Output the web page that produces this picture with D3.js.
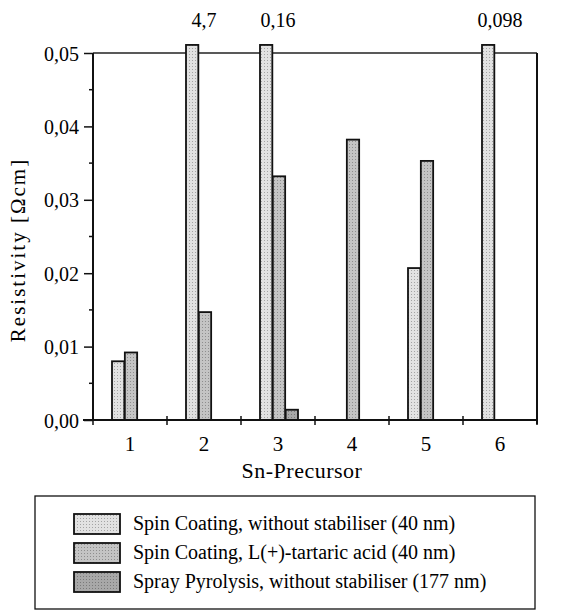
<!DOCTYPE html>
<html>
<head>
<meta charset="utf-8">
<script src="https://cdn.jsdelivr.net/npm/d3@7"></script>
<style>
  body { margin: 0; background: #fff; }
  svg text { font-family: "Liberation Serif", "Times New Roman", serif; fill: #000; }
</style>
</head>
<body>
<svg id="chart" width="565" height="614"></svg>
<script>
// data
var precursors = ["1", "2", "3", "4", "5", "6"];
var seriesNames = [
  "Spin Coating, without stabiliser (40 nm)",
  "Spin Coating, L(+)-tartaric acid (40 nm)",
  "Spray Pyrolysis, without stabiliser (177 nm)"
];
// null = no bar
var spinNoStab   = [0.0080, 4.7, 0.16, null, 0.0207, 0.098];
var spinTartaric = [0.0092, 0.0147, 0.0332, 0.0382, 0.0353, null];
var sprayNoStab  = [null, null, 0.0014, null, null, null];
var yTicks = [0, 0.01, 0.02, 0.03, 0.04, 0.05];

var allSeries = [spinNoStab, spinTartaric, sprayNoStab];
var fills = ["#e2e2e2", "#c4c4c4", "#a8a8a8"];

var svg = d3.select("#chart");

var margins = { left: 93, right: 28, top: 53, bottom: 194 };
var width = 565 - margins.left - margins.right;
var height = 614 - margins.top - margins.bottom;

var xScale = d3.scaleBand()
  .domain(precursors)
  .range([0, width]);

var xSub = d3.scaleBand()
  .domain([0, 1, 2])
  .range([-18, 20])
  .paddingInner(0.04);

var yScale = d3.scaleLinear()
  .domain([0, 0.05])
  .range([height, 0]);

var yMaxShown = 0.0511; // broken bars stick out a bit above the frame

// textures (stipple look)
var defs = svg.append("defs");
fills.forEach(function(c, i) {
  var p = defs.append("pattern")
    .attr("id", "pat" + i)
    .attr("width", 3).attr("height", 3)
    .attr("patternUnits", "userSpaceOnUse");
  p.append("rect").attr("width", 3).attr("height", 3).attr("fill", c);
  p.append("rect").attr("x", i % 2).attr("y", 1).attr("width", 1).attr("height", 1)
    .attr("fill", d3.color(c).darker(0.9));
});

var plot = svg.append("g")
  .attr("transform", "translate(" + margins.left + "," + margins.top + ")");

// frame: top and right lines
plot.append("line")
  .attr("x1", 0).attr("x2", width).attr("y1", 0).attr("y2", 0)
  .attr("stroke", "#222").attr("stroke-width", 1.3);
plot.append("line")
  .attr("x1", width).attr("x2", width).attr("y1", 0).attr("y2", height + 4)
  .attr("stroke", "#111").attr("stroke-width", 2);

// bars
var barData = [];
allSeries.forEach(function(s, si) {
  s.forEach(function(v, ci) {
    if (v != null) barData.push({ cat: precursors[ci], s: si, v: v });
  });
});

plot.selectAll("rect.bar")
  .data(barData)
  .enter()
  .append("rect")
  .attr("class", "bar")
  .attr("x", function(d) { return xScale(d.cat) + xScale.bandwidth() / 2 + xSub(d.s); })
  .attr("width", xSub.bandwidth())
  .attr("y", function(d) { return yScale(Math.min(d.v, yMaxShown)); })
  .attr("height", function(d) { return height - yScale(Math.min(d.v, yMaxShown)); })
  .attr("fill", function(d) { return "url(#pat" + d.s + ")"; })
  .attr("stroke", "#111")
  .attr("stroke-width", 1.8);

// values of bars that go off the scale
plot.selectAll("text.over")
  .data(barData.filter(function(d) { return d.v > 0.05; }))
  .enter()
  .append("text")
  .attr("class", "over")
  .attr("x", function(d) { return xScale(d.cat) + xScale.bandwidth() / 2; })
  .attr("y", -26)
  .attr("text-anchor", "middle")
  .style("font-size", "20px")
  .text(function(d) { return String(d.v).replace(".", ","); });

// y axis
var yAxis = d3.axisLeft(yScale)
  .tickValues(yTicks)
  .tickSize(9)
  .tickPadding(5)
  .tickFormat(function(d) { return d3.format(".2f")(d).replace(".", ","); });

var yg = plot.append("g").call(yAxis);
yg.select(".domain").attr("stroke", "#111").attr("stroke-width", 2).attr("d", "M0,0V" + height);
yg.selectAll(".tick line").attr("stroke", "#111").attr("stroke-width", 1.5);
yg.selectAll(".tick text").style("font-size", "20px").attr("dy", "0.35em");

// minor y ticks
plot.selectAll("line.minor")
  .data(yTicks.slice(0, -1).map(function(t) { return t + 0.005; }))
  .enter()
  .append("line")
  .attr("x1", -4).attr("x2", 0)
  .attr("y1", function(d) { return yScale(d); })
  .attr("y2", function(d) { return yScale(d); })
  .attr("stroke", "#111").attr("stroke-width", 1.5);

// x axis line and ticks between categories
plot.append("line")
  .attr("x1", -10).attr("x2", width).attr("y1", height).attr("y2", height)
  .attr("stroke", "#111").attr("stroke-width", 2);

var bounds = precursors.map(function(p) { return xScale(p); }).concat([width]);
plot.selectAll("line.xtick")
  .data(bounds)
  .enter()
  .append("line")
  .attr("x1", function(d) { return d; })
  .attr("x2", function(d) { return d; })
  .attr("y1", height - 4).attr("y2", height + 5)
  .attr("stroke", "#111").attr("stroke-width", 1.5);

plot.selectAll("text.xlab")
  .data(precursors)
  .enter()
  .append("text")
  .attr("x", function(d) { return xScale(d) + xScale.bandwidth() / 2; })
  .attr("y", height + 31)
  .attr("text-anchor", "middle")
  .style("font-size", "21px")
  .text(function(d) { return d; });

// axis titles
svg.append("text")
  .attr("x", 302)
  .attr("y", 478)
  .attr("text-anchor", "middle")
  .style("font-size", "22px")
  .style("letter-spacing", "0.5px")
  .text("Sn-Precursor");

svg.append("text")
  .attr("transform", "translate(25,250) rotate(-90)")
  .attr("text-anchor", "middle")
  .style("font-size", "21px")
  .style("letter-spacing", "2px")
  .text("Resistivity [\u03A9cm]");

// legend
var legend = svg.append("g");
legend.append("rect")
  .attr("x", 35).attr("y", 496).attr("width", 500).attr("height", 113)
  .attr("fill", "none").attr("stroke", "#111").attr("stroke-width", 1.3);

var rows = legend.selectAll("g.row")
  .data(seriesNames)
  .enter()
  .append("g")
  .attr("transform", function(d, i) { return "translate(74," + (514 + i * 29) + ")"; });

rows.append("rect")
  .attr("width", 46).attr("height", 20)
  .attr("fill", function(d, i) { return "url(#pat" + i + ")"; })
  .attr("stroke", "#111").attr("stroke-width", 1.8);

rows.append("text")
  .attr("x", 59).attr("y", 16)
  .style("font-size", "20px")
  .text(function(d) { return d; });
</script>
</body>
</html>
